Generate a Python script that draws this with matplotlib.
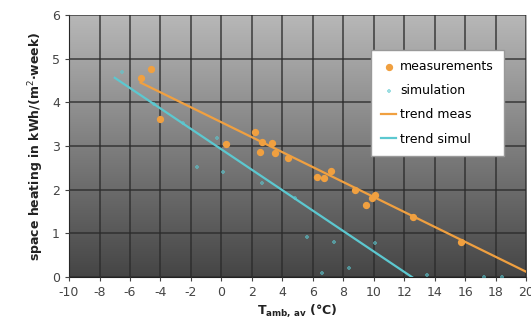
import numpy as np
import matplotlib.pyplot as plt
from matplotlib.colors import LinearSegmentedColormap

plt.rcParams['axes.unicode_minus'] = False

# measured weekly space heating vs. mean ambient temperature
meas_t = [-5.3, -4.6, -4.0, 0.3, 2.2, 2.65, 2.5, 3.3, 3.5, 4.4, 6.3, 6.7, 7.2, 8.75, 9.5, 9.9, 10.1, 12.6, 15.7]
meas_q = [4.56, 4.77, 3.62, 3.05, 3.33, 3.1, 2.87, 3.07, 2.84, 2.73, 2.28, 2.27, 2.42, 2.0, 1.65, 1.81, 1.88, 1.38, 0.8]

sim_t = [-6.5, -4.4, -2.5, -0.3, -1.6, 0.1, 2.65, 4.8, 5.6, 7.4, 10.1, 8.4, 6.6, 13.5, 17.2, 18.4]
sim_q = [4.7, 3.95, 3.52, 3.18, 2.53, 2.4, 2.15, 1.8, 0.92, 0.8, 0.78, 0.2, 0.1, 0.05, 0.0, 0.0]

# trend lines (start/end points)
trend_meas_t = [-5.3, 20.0]
trend_meas_q = [4.45, 0.12]
trend_sim_t = [-7.0, 18.4]
trend_sim_q = [4.56, -1.38]

xticks = list(range(-10, 21, 2))
yticks = list(range(0, 7))

orange = '#f0a040'
cyan = '#5cc8d0'

fig = plt.figure(figsize=(5.31, 3.31), dpi=100)
ax = fig.add_axes([0.130, 0.163, 0.861, 0.792])

# gray gradient background of the plot area
grad = LinearSegmentedColormap.from_list('bg', ['#454545', '#b8b8b8'])
ax.imshow(np.linspace(0, 1, 256).reshape(-1, 1), cmap=grad, origin='lower',
          extent=[-10, 20, 0, 6], aspect='auto', zorder=0)

ax.set_xlim(-10, 20)
ax.set_ylim(0, 6)
ax.set_xticks(xticks)
ax.set_yticks(yticks)
ax.grid(True, color='#2a2a2a', linewidth=1.2, alpha=0.8, zorder=1)
ax.set_axisbelow(False)

ax.plot(trend_meas_t, trend_meas_q, color=orange, lw=1.6, label='trend meas', zorder=3)
ax.plot(trend_sim_t, trend_sim_q, color=cyan, lw=1.6, label='trend simul', zorder=3)
ax.scatter(meas_t, meas_q, s=18, color=orange, label='measurements', zorder=4)
ax.scatter(sim_t, sim_q, s=12, color=cyan, marker='+', alpha=0.6, label='simulation', zorder=4)

for s in ['top', 'right']:
    ax.spines[s].set_visible(False)
ax.spines['left'].set_color('#222222')
ax.spines['bottom'].set_color('#222222')
ax.tick_params(colors='#444444', labelsize=9, length=3)

ax.set_ylabel('space heating in kWh/(m$^2$·week)', fontsize=9, fontweight='bold', color='#222222')
ax.set_xlabel(r'T$_{\mathbf{amb,\,av}}$ (°C)', fontsize=9, fontweight='bold', color='#222222', labelpad=2)

h, l = ax.get_legend_handles_labels()
order = [2, 3, 0, 1]
leg = ax.legend([h[i] for i in order], [l[i] for i in order], loc='upper right',
                bbox_to_anchor=(0.965, 0.89), fontsize=9, frameon=True, fancybox=False,
                edgecolor='#999999', framealpha=1, handlelength=1.2, handletextpad=0.3,
                borderpad=0.8, labelspacing=0.9)
leg.set_zorder(5)

fig.savefig('out.png', dpi=100)
